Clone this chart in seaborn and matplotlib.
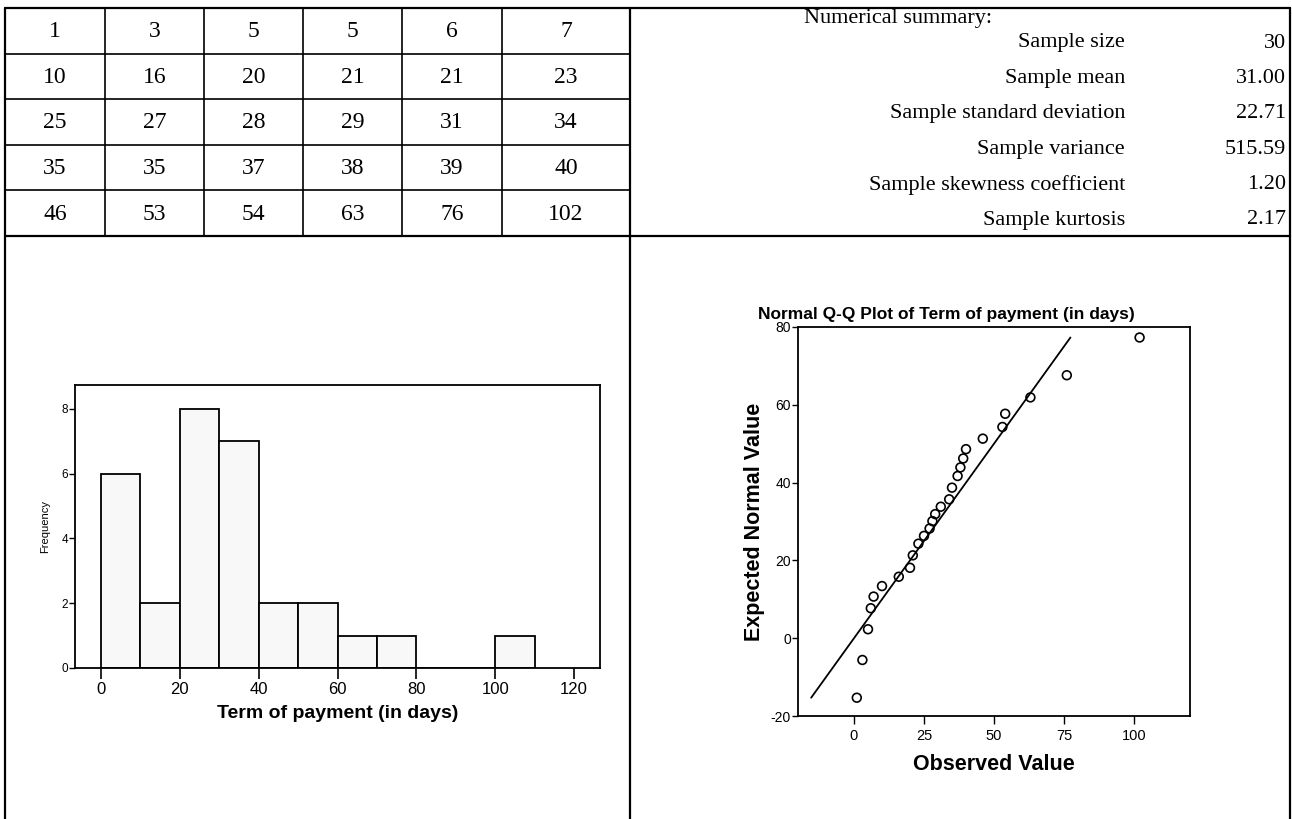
import matplotlib
matplotlib.use('Agg')
import matplotlib.pyplot as plt
import seaborn as sns
import numpy as np

# Data: term of payment (in days), 30 observations
terms = [1, 3, 5, 5, 6, 7,
         10, 16, 20, 21, 21, 23,
         25, 27, 28, 29, 31, 34,
         35, 35, 37, 38, 39, 40,
         46, 53, 54, 63, 76, 102]

# Numerical summary block
summary_labels = ['Sample size', 'Sample mean', 'Sample standard deviation',
                  'Sample variance', 'Sample skewness coefficient', 'Sample kurtosis']
summary_values = ['30', '31.00', '22.71', '515.59', '1.20', '2.17']

qq_observed = [1, 3, 5, 6, 7, 10, 16, 20, 21, 23, 25, 27, 28, 29, 31, 34,
               35, 37, 38, 39, 40, 46, 53, 54, 63, 76, 102]
qq_expected = [-15.3, -5.6, 2.3, 7.7, 10.7, 13.4, 15.8, 18.1, 21.3, 24.3, 26.3,
               28.2, 30.1, 31.9, 33.8, 35.7, 38.7, 41.7, 43.9, 46.2, 48.6,
               51.3, 54.3, 57.7, 61.9, 67.6, 77.3]
qq_line = [-15.3, 77.3]

sns.set_theme(style='white')
plt.rcParams['font.family'] = ['Liberation Sans', 'DejaVu Sans']
plt.rcParams['axes.unicode_minus'] = False
for key in ['text.color', 'axes.labelcolor', 'xtick.color', 'ytick.color']:
    plt.rcParams[key] = 'black'

W, H = 1292, 819
fig = plt.figure(figsize=(W / 100, H / 100), dpi=100)


def px_axes(left, top, right, bottom):
    return fig.add_axes([left / W, 1 - bottom / H, (right - left) / W, (bottom - top) / H])


# page frame in pixel coordinates
frame = fig.add_axes([0, 0, 1, 1])
frame.set_xlim(0, W)
frame.set_ylim(H, 0)
frame.axis('off')

lw = 1.6
top_y, mid_y = 8, 236
col_x = [5, 105, 204, 303, 402, 502, 630]
row_y = np.linspace(top_y, mid_y, 6)

frame.plot([5, 1290], [top_y, top_y], color='black', lw=lw)
frame.plot([5, 1290], [mid_y, mid_y], color='black', lw=lw)
frame.plot([5, 5], [top_y, H], color='black', lw=lw)
frame.plot([1290, 1290], [top_y, H], color='black', lw=lw)
frame.plot([630, 630], [top_y, H], color='black', lw=lw)
for x in col_x[1:-1]:
    frame.plot([x, x], [top_y, mid_y], color='black', lw=1.2)
for y in row_y[1:-1]:
    frame.plot([5, 630], [y, y], color='black', lw=1.2)

serif = ['Liberation Serif', 'DejaVu Serif']
for i in range(5):
    for j in range(6):
        frame.text((col_x[j] + col_x[j + 1]) / 2, (row_y[i] + row_y[i + 1]) / 2 + 1,
                   str(terms[i * 6 + j]), ha='center', va='center',
                   fontsize=17, family=serif)

frame.text(804, 19, 'Numerical summary:', ha='left', va='center', fontsize=16, family=serif)
sum_y = np.linspace(43, 220, 6)
for lab, val, y in zip(summary_labels, summary_values, sum_y):
    frame.text(1125, y, lab, ha='right', va='center', fontsize=16, family=serif)
    frame.text(1286, y, val, ha='right', va='center', fontsize=16, family=serif)

# Histogram
ax1 = px_axes(75, 385, 600, 668)
sns.histplot(x=terms, bins=np.arange(0, 120, 10), color='#f8f8f8', alpha=1,
             edgecolor='black', linewidth=1.3, ax=ax1)
ax1.set_xlim(-6.6, 126.6)
ax1.set_ylim(0, 8.74)
ax1.set_xticks([0, 20, 40, 60, 80, 100, 120])
ax1.set_yticks([0, 2, 4, 6, 8])
ax1.tick_params(axis='x', direction='out', length=8, width=1.2, labelsize=12, pad=2)
ax1.tick_params(axis='y', direction='out', length=4, width=1.0, labelsize=8.5, pad=1)
ax1.tick_params(bottom=True, left=True)
ax1.set_xlabel('Term of payment (in days)', fontsize=14, fontweight='bold', labelpad=6)
ax1.set_ylabel('Frequency', fontsize=8, labelpad=8)
for s in ax1.spines.values():
    s.set_color('black')
    s.set_linewidth(1.3)

# Normal Q-Q plot
ax2 = px_axes(798, 327, 1190, 716)
sns.lineplot(x=qq_line, y=qq_line, color='black', linewidth=1.3, ax=ax2)
sns.scatterplot(x=qq_observed, y=qq_expected, marker='o', s=40,
                facecolor='none', edgecolor='black', linewidth=1.2, ax=ax2)
ax2.set_xlim(-20, 120)
ax2.set_ylim(-20, 80)
ax2.set_xticks([0, 25, 50, 75, 100])
ax2.set_yticks([-20, 0, 20, 40, 60, 80])
ax2.tick_params(axis='x', direction='out', length=6, width=1.0, labelsize=10.5, pad=3)
ax2.tick_params(axis='y', direction='out', length=4, width=1.0, labelsize=10, pad=1)
ax2.tick_params(bottom=True, left=True)
ax2.set_title('Normal Q-Q Plot of Term of payment (in days)', fontsize=12.5,
              fontweight='bold', pad=6, x=(946 - 798) / 392)
ax2.set_xlabel('Observed Value', fontsize=15.5, fontweight='bold', labelpad=8)
ax2.set_ylabel('Expected Normal Value', fontsize=15.5, fontweight='bold', labelpad=4)
for s in ax2.spines.values():
    s.set_color('black')
    s.set_linewidth(1.3)

fig.savefig('out.png', dpi=100)
